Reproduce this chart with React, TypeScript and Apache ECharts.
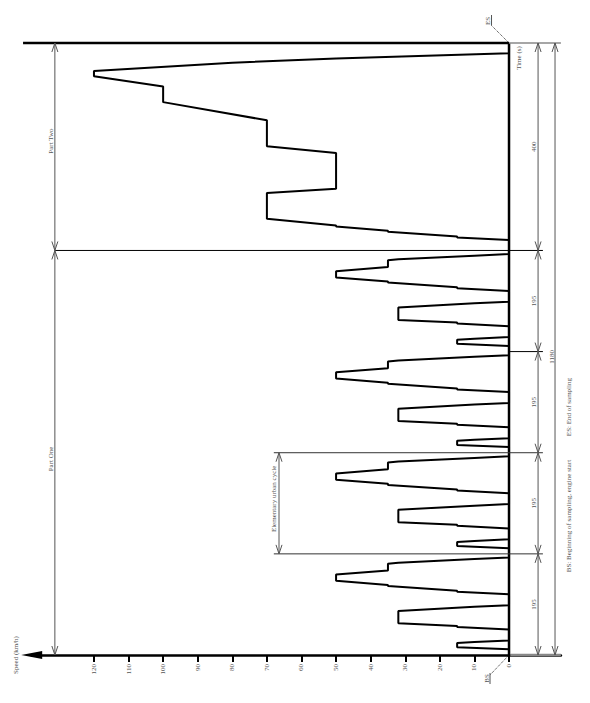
import React, { useEffect, useRef } from 'react';
import * as echarts from 'echarts';

// Elementary urban cycle (ECE-15): time (s) and speed (km/h)
const CYCLE_TIME = [0, 11, 15, 23, 25, 28, 49, 54, 56, 61, 85, 93, 96, 117, 122, 124, 133, 135, 143, 155, 163, 176, 178, 185, 188, 195];
const CYCLE_SPEED = [0, 0, 15, 15, 10, 0, 0, 15, 15, 32, 32, 10, 0, 0, 15, 15, 35, 35, 50, 50, 35, 35, 32, 10, 0, 0];
const CYCLE_STARTS = [0, 195, 390, 585];

// Extra-urban cycle (Part Two)
const EUDC_START = 780;
const EUDC_TIME = [0, 20, 25, 27, 36, 38, 46, 48, 61, 111, 119, 188, 201, 251, 286, 316, 336, 346, 362, 370, 380, 400];
const EUDC_SPEED = [0, 0, 15, 15, 35, 35, 50, 50, 70, 70, 50, 50, 70, 70, 100, 100, 120, 120, 80, 50, 0, 0];

const SPEED_TICKS = [0, 10, 20, 30, 40, 50, 60, 70, 80, 90, 100, 110, 120];
const SEGMENT_BOUNDS = [0, 195, 390, 585, 780, 1180];
const SEGMENT_LABELS = ['195', '195', '195', '195', '400'];
const TOTAL_LABEL = '1180';
const PART_BOUNDS = [0, 780, 1180];
const PART_LABELS = ['Part One', 'Part Two'];
const URBAN_CYCLE = [195, 390];

const FONT = '"Liberation Serif", "Times New Roman", serif';
const TXT = '#555';
const DIM = '#555';

function buildData(): number[][] {
  const pts: number[][] = [];
  CYCLE_STARTS.forEach((start) => {
    CYCLE_TIME.forEach((t, i) => pts.push([CYCLE_SPEED[i], start + t]));
  });
  EUDC_TIME.forEach((t, i) => pts.push([EUDC_SPEED[i], EUDC_START + t]));
  return pts;
}

export default function App() {
  const ref = useRef<HTMLDivElement>(null);
  useEffect(() => {
    document.body.style.margin = '0';
    const chart = echarts.init(ref.current!, null, { renderer: 'svg' });
    chart.setOption({
      animation: false,
      grid: { left: 31.7, right: 29.1, top: 43, bottom: 48, containLabel: false, outerBoundsMode: 'none' },
      xAxis: {
        type: 'value', inverse: true, min: -15, max: 138,
        axisLine: { show: true, onZero: false, symbol: ['triangle', 'none'], symbolSize: [8, 21], lineStyle: { color: '#000', width: 2.5 } },
        axisTick: { show: true, customValues: SPEED_TICKS, length: 7, lineStyle: { color: '#000', width: 2 } },
        axisLabel: { show: true, customValues: SPEED_TICKS, rotate: 90, margin: 9, fontSize: 7, fontFamily: FONT, color: TXT },
        splitLine: { show: false },
      },
      yAxis: { type: 'value', min: 0, max: 1180, axisLine: { show: false }, axisTick: { show: false }, axisLabel: { show: false }, splitLine: { show: false } },
      series: [{ type: 'line', data: buildData(), symbol: 'none', showSymbol: false, clip: false, silent: true, lineStyle: { color: '#000', width: 2 } }],
    });

    const P = (s: number, t: number) => chart.convertToPixel({ gridIndex: 0 }, [s, t]) as number[];
    const xOf = (s: number) => P(s, 0)[0];
    const yOf = (t: number) => P(0, t)[1];
    const els: any[] = [];
    let n = 0;
    const line = (x1: number, y1: number, x2: number, y2: number, color: string, width: number, dash?: number[]) => {
      const el: any = { type: 'line', id: 'L' + n++, silent: true, z: 10, shape: { x1, y1, x2, y2 }, style: { stroke: color, lineWidth: width } };
      if (dash) el.style.lineDash = dash;
      els.push(el);
    };
    const head = (x: number, y: number, up: boolean) => {
      const d = up ? 1 : -1;
      els.push({ type: 'polyline', id: 'H' + n++, silent: true, z: 10, shape: { points: [[x - 3, y + 9 * d], [x, y], [x + 3, y + 9 * d]] }, style: { stroke: DIM, lineWidth: 1, fill: null } });
    };
    const text = (x: number, y: number, str: string) =>
      els.push({ type: 'text', id: 'T' + n++, silent: true, z: 11, x, y, rotation: Math.PI / 2, style: { text: str, fill: TXT, fontSize: 7, fontFamily: FONT, textAlign: 'center', textVerticalAlign: 'middle' } });
    const dimV = (x: number, t0: number, t1: number) => {
      const yb = yOf(t0);
      const yt = yOf(t1);
      line(x, yb, x, yt, DIM, 1);
      head(x, yt, true);
      head(x, yb, false);
    };

    // time axis at speed 0, top boundary, gray extensions
    line(xOf(0), yOf(0), xOf(0), yOf(1180), '#000', 2.5);
    line(xOf(140.5), yOf(1180), xOf(0), yOf(1180), '#000', 2.5);
    line(xOf(0), yOf(1180), xOf(-15), yOf(1180), '#888', 1.5);
    line(xOf(0) + 1.3, yOf(0), xOf(-15), yOf(0), '#888', 2.6);
    // boundary / extension lines
    line(xOf(131.3), yOf(PART_BOUNDS[1]), xOf(-9.8), yOf(PART_BOUNDS[1]), '#000', 1);
    URBAN_CYCLE.forEach((t) => line(xOf(68), yOf(t), xOf(-9.8), yOf(t), '#333', 1));
    line(xOf(0), yOf(SEGMENT_BOUNDS[3]), xOf(-9.8), yOf(SEGMENT_BOUNDS[3]), '#000', 1);
    // segment dimensions
    const segX = xOf(-8.4);
    for (let i = 0; i < SEGMENT_LABELS.length; i++) {
      dimV(segX, SEGMENT_BOUNDS[i], SEGMENT_BOUNDS[i + 1]);
      text(segX - 4, yOf((SEGMENT_BOUNDS[i] + SEGMENT_BOUNDS[i + 1]) / 2), SEGMENT_LABELS[i]);
    }
    // total
    const totX = xOf(-13.3);
    dimV(totX, 0, 1180);
    text(totX - 3.5, yOf(575), TOTAL_LABEL);
    // parts
    const partX = xOf(131.3);
    for (let i = 0; i < PART_LABELS.length; i++) dimV(partX, PART_BOUNDS[i], PART_BOUNDS[i + 1]);
    text(partX - 4, yOf(378), PART_LABELS[0]);
    text(partX - 4, yOf(991), PART_LABELS[1]);
    // elementary urban cycle
    const ucX = xOf(66.5);
    dimV(ucX, URBAN_CYCLE[0], URBAN_CYCLE[1]);
    text(ucX - 5, yOf(301), 'Elementary urban cycle');
    // axis names
    text(xOf(0) + 10, yOf(1151), 'Time (s)');
    text(15.7, yOf(0), 'Speed (km/h)');
    // BS / ES markers
    const o = P(0, 0);
    line(o[0], o[1], o[0] - 19, o[1] + 20, '#000', 0.8, [1, 1]);
    line(o[0] - 19, o[1] + 18, o[0] - 19, o[1] + 29, '#555', 1);
    text(o[0] - 22.5, o[1] + 23.5, 'BS');
    const e = P(0, 1180);
    line(e[0], e[1], e[0] - 17.5, e[1] - 17.5, '#000', 0.8, [1, 1]);
    line(e[0] - 17.5, e[1] - 17.5, e[0] - 17.5, e[1] - 28, '#555', 1);
    text(e[0] - 21, e[1] - 22, 'ES');
    // notes
    text(xOf(-17.2), yOf(478), 'ES: End of sampling');
    text(xOf(-17.2), yOf(268), 'BS: Beginning of sampling, engine start');

    chart.setOption({ graphic: { elements: els } });
    return () => chart.dispose();
  }, []);
  return <div ref={ref} style={{ width: 590, height: 703 }} />;
}
